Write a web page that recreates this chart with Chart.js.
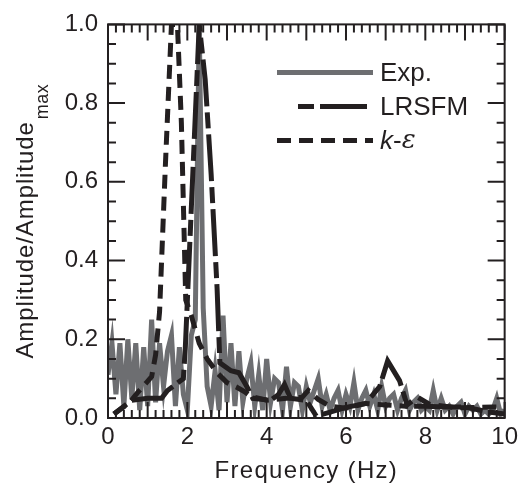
<!DOCTYPE html>
<html>
<head>
<meta charset="utf-8">
<script src="https://cdn.jsdelivr.net/npm/chart.js@4/dist/chart.umd.min.js"></script>
<style>
  html, body { margin: 0; padding: 0; background: #fff; }
  canvas { display: block; }
</style>
</head>
<body>
<canvas id="chart" width="523" height="487"></canvas>
<script>
// measured spectrum (Exp.), 0.1 Hz steps
const expFreq = [
  0.0, 0.1, 0.2, 0.3, 0.4, 0.5, 0.6, 0.7, 0.8, 0.9,
  1.0, 1.1, 1.2, 1.3, 1.4, 1.5, 1.6, 1.7, 1.8, 1.9,
  2.0, 2.1, 2.2, 2.3, 2.4, 2.5, 2.6, 2.7, 2.8, 2.9,
  3.0, 3.1, 3.2, 3.3, 3.4, 3.5, 3.6, 3.7, 3.8, 3.9,
  4.0, 4.1, 4.2, 4.3, 4.4, 4.5, 4.6, 4.7, 4.8, 4.9,
  5.0, 5.1, 5.2, 5.3, 5.4, 5.5, 5.6, 5.7, 5.8, 5.9,
  6.0, 6.1, 6.2, 6.3, 6.4, 6.5, 6.6, 6.7, 6.8, 6.9,
  7.0, 7.1, 7.2, 7.3, 7.4, 7.5, 7.6, 7.7, 7.8, 7.9,
  8.0, 8.1, 8.2, 8.3, 8.4, 8.5, 8.6, 8.7, 8.8, 8.9,
  9.0, 9.1, 9.2, 9.3, 9.4, 9.5, 9.6, 9.7, 9.8, 9.9,
  10.0
];
const expAmp = [
  0.11, 0.19, 0.06, 0.19, 0.03, 0.20, 0.05, 0.19, 0.02, 0.18,
  0.03, 0.25, 0.04, 0.19, 0.08, 0.17, 0.21, 0.03, 0.18, 0.06,
  0.02, 0.21, 0.25, 1.00, 0.28, 0.08, 0.03, 0.12, 0.02, 0.26,
  0.04, 0.19, 0.03, 0.17, 0.04, 0.10, 0.14, 0.03, 0.11, 0.02,
  0.15, 0.04, 0.10, 0.09, 0.02, 0.13, 0.03, 0.09, 0.08, 0.02,
  0.08, 0.04, 0.07, 0.10, 0.03, 0.06, 0.02, 0.05, 0.07, 0.02,
  0.06, 0.03, 0.09, 0.02, 0.05, 0.07, 0.03, 0.06, 0.02, 0.08,
  0.03, 0.05, 0.06, 0.02, 0.05, 0.07, 0.02, 0.04, 0.05, 0.02,
  0.03, 0.02, 0.07, 0.02, 0.05, 0.02, 0.03, 0.01, 0.03, 0.04,
  0.01, 0.03, 0.02, 0.03, 0.01, 0.02, 0.01, 0.02, 0.05, 0.01,
  0.02
];

// LRSFM simulation
const lrsfmFreq = [0.15, 0.6, 1.0, 1.35, 1.5, 1.9, 1.95, 2.3, 2.45, 2.6, 2.75, 2.82, 3.1, 3.3, 3.5, 3.65,
  4.1, 4.3, 4.45, 4.6, 5.0, 5.25, 5.6, 6.0, 6.5, 6.85, 7.05, 7.35, 7.55, 8.0, 8.5, 9.0, 9.6, 10.0];
const lrsfmAmp = [0.01, 0.045, 0.05, 0.05, 0.07, 0.10, 0.18, 1.0, 0.86, 0.62, 0.33, 0.14, 0.12, 0.115, 0.08, 0.05,
  0.045, 0.06, 0.085, 0.05, 0.045, 0.005, 0.015, 0.027, 0.037, 0.08, 0.145, 0.095, 0.03, 0.03, 0.028, 0.028, 0.015, 0.01];

// k-epsilon simulation
const keFreq = [0.15, 0.55, 0.75, 0.97, 1.1, 1.2, 1.3, 1.45, 1.6, 1.75, 1.85, 1.96, 2.1, 2.3, 2.5, 2.75, 3.0,
  3.25, 3.47, 3.6, 4.0, 4.5, 4.9, 5.05, 5.3, 5.6, 6.0, 6.5, 7.0, 7.5, 7.8, 8.1, 8.8, 9.7, 10.0];
const keAmp = [0.01, 0.04, 0.065, 0.09, 0.105, 0.16, 0.27, 0.65, 1.0, 1.0, 0.75, 0.30, 0.26, 0.19, 0.15, 0.115, 0.09,
  0.078, 0.065, 0.055, 0.045, 0.05, 0.053, 0.07, 0.047, 0.03, 0.025, 0.037, 0.033, 0.03, 0.053, 0.035, 0.026, 0.028, 0.028];

const xTickLabels = [0, 2, 4, 6, 8, 10];
const yTickLabels = [0.0, 0.2, 0.4, 0.6, 0.8, 1.0];

const ink = "#231f20";
const grey = "#6d6e71";
const fontFamily = "'Liberation Sans', Arial, Helvetica, sans-serif";

const toPoints = (xs, ys) => xs.map((f, i) => ({ x: f, y: ys[i] }));

// frame, inward ticks, legend and the y title (with subscript)
const decorations = {
  id: "decorations",
  afterDatasetsDraw(chart) {
    const { ctx, chartArea: a, scales } = chart;
    const x = scales.x, y = scales.y;
    ctx.save();
    ctx.strokeStyle = ink;
    ctx.lineWidth = 2;
    ctx.lineCap = "butt";
    ctx.setLineDash([]);
    ctx.strokeRect(a.left, a.top, a.right - a.left, a.bottom - a.top);

    ctx.beginPath();
    for (let i = 0; i <= 50; i++) {
      const px = x.getPixelForValue(i * 0.2);
      const len = i % 5 === 0 ? 16 : 8;
      ctx.moveTo(px, a.bottom); ctx.lineTo(px, a.bottom - len);
      ctx.moveTo(px, a.top); ctx.lineTo(px, a.top + len);
    }
    for (let j = 0; j <= 20; j++) {
      const py = y.getPixelForValue(j * 0.05);
      const len = j % 4 === 0 ? 17 : 8;
      ctx.moveTo(a.left, py); ctx.lineTo(a.left + len, py);
      ctx.moveTo(a.right, py); ctx.lineTo(a.right - len, py);
    }
    ctx.stroke();
    ctx.restore();
  },
  afterDraw(chart) {
    const { ctx, chartArea: a } = chart;
    ctx.save();

    // legend
    const x0 = a.left + 169, x1 = a.left + 265, tx = a.left + 272;
    const rows = chart.data.datasets.map((ds, i) => ({ ds, yy: a.top + 48 + i * 34 }));
    ctx.textBaseline = "middle";
    ctx.textAlign = "left";
    rows.forEach(({ ds, yy }) => {
      ctx.strokeStyle = ds.borderColor;
      ctx.lineWidth = ds.borderWidth;
      ctx.setLineDash(ds.borderDash || []);
      ctx.beginPath();
      const start = ds.label === "LRSFM" ? x0 + 21 : x0;
      ctx.moveTo(start, yy); ctx.lineTo(x1, yy);
      ctx.stroke();
      ctx.setLineDash([]);
      ctx.fillStyle = ink;
      if (ds.label === "k-ε") {
        ctx.font = "italic 26px " + fontFamily;
        ctx.fillText("k", tx, yy + 1);
        const wk = ctx.measureText("k").width;
        ctx.font = "26px " + fontFamily;
        ctx.fillText("-", tx + wk, yy + 1);
        const wd = ctx.measureText("-").width;
        ctx.font = "italic 26px 'DejaVu Serif', serif";
        ctx.fillText("ε", tx + wk + wd, yy + 1);
      } else {
        ctx.font = "26px " + fontFamily;
        ctx.fillText(ds.label, tx, yy + 1);
      }
    });

    // y axis title
    const main = "Amplitude/Amplitude", sub = "max";
    ctx.fillStyle = ink;
    ctx.textBaseline = "alphabetic";
    ctx.font = "24px " + fontFamily;
    ctx.letterSpacing = "0.9px";
    const wMain = ctx.measureText(main).width;
    ctx.font = "18px " + fontFamily;
    ctx.letterSpacing = "0.5px";
    const wSub = ctx.measureText(sub).width;
    const total = wMain + 2 + wSub;
    const cy = (a.top + a.bottom) / 2;
    ctx.translate(33, cy + total / 2);
    ctx.rotate(-Math.PI / 2);
    ctx.font = "24px " + fontFamily;
    ctx.letterSpacing = "0.9px";
    ctx.fillText(main, 0, 0);
    ctx.font = "18px " + fontFamily;
    ctx.letterSpacing = "0.5px";
    ctx.fillText(sub, wMain + 2, 15);
    ctx.restore();

    // x axis title
    ctx.save();
    ctx.fillStyle = ink;
    ctx.font = "24px " + fontFamily;
    ctx.letterSpacing = "1.3px";
    ctx.textAlign = "center";
    ctx.textBaseline = "middle";
    ctx.fillText("Frequency (Hz)", (a.left + a.right) / 2, 471);
    ctx.restore();
  }
};

new Chart(document.getElementById("chart"), {
  type: "line",
  data: {
    datasets: [
      {
        label: "Exp.",
        data: toPoints(expFreq, expAmp),
        borderColor: grey,
        borderWidth: 5,
        order: 3
      },
      {
        label: "LRSFM",
        data: toPoints(lrsfmFreq, lrsfmAmp),
        borderColor: ink,
        borderWidth: 5,
        borderDash: [16, 6, 47, 6],
        order: 2
      },
      {
        label: "k-ε",
        data: toPoints(keFreq, keAmp),
        borderColor: ink,
        borderWidth: 5,
        borderDash: [14, 8],
        order: 1
      }
    ]
  },
  options: {
    responsive: false,
    animation: false,
    layout: { padding: { left: 0, top: 18, right: 14, bottom: 0 } },
    elements: {
      point: { radius: 0 },
      line: { tension: 0, borderCapStyle: "butt", borderJoinStyle: "miter" }
    },
    scales: {
      x: {
        type: "linear",
        min: 0,
        max: 10,
        afterFit: (scale) => { scale.height = 69; },
        afterBuildTicks: (scale) => { scale.ticks = xTickLabels.map((v) => ({ value: v })); },
        grid: { display: false, drawTicks: false },
        border: { display: false },
        ticks: {
          padding: 5,
          color: ink,
          font: { family: fontFamily, size: 24 },
          maxRotation: 0,
          callback: (v) => String(v)
        }
      },
      y: {
        type: "linear",
        min: 0,
        max: 1,
        afterFit: (scale) => { scale.width = 108; },
        afterBuildTicks: (scale) => { scale.ticks = yTickLabels.map((v) => ({ value: v })); },
        grid: { display: false, drawTicks: false },
        border: { display: false },
        ticks: {
          padding: 10,
          color: ink,
          font: { family: fontFamily, size: 24 },
          callback: (v) => v.toFixed(1)
        }
      }
    },
    plugins: {
      legend: { display: false },
      tooltip: { enabled: false }
    }
  },
  plugins: [decorations]
});
</script>
</body>
</html>
